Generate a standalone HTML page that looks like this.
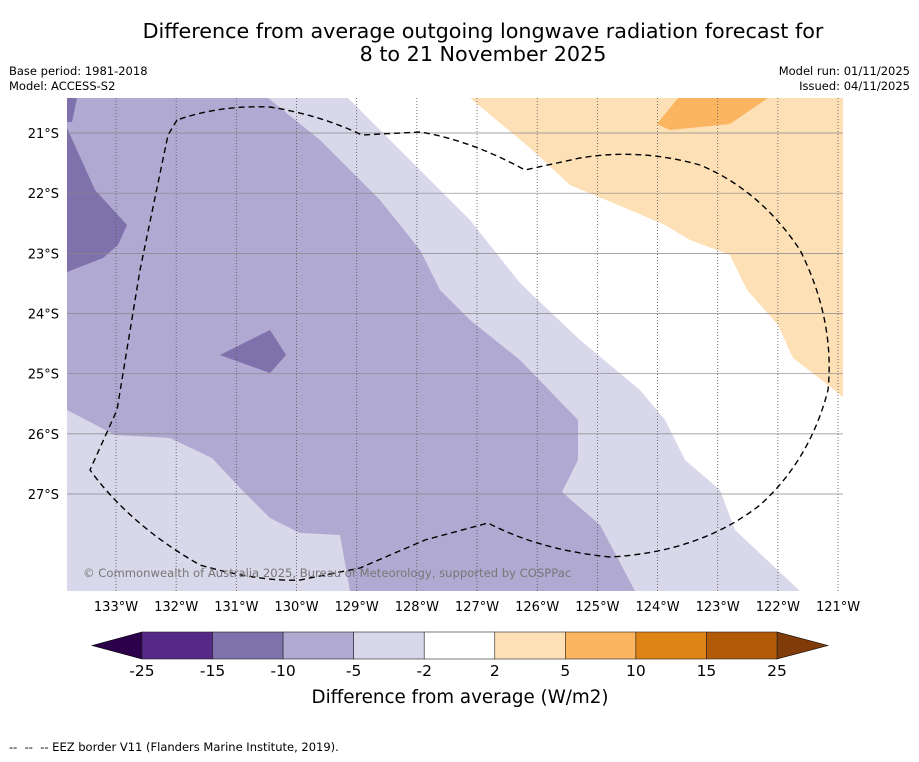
<!DOCTYPE html>
<html><head><meta charset="utf-8"><style>
body{margin:0;background:#fff;width:919px;height:758px;overflow:hidden;font-family:"DejaVu Sans","Liberation Sans",sans-serif}
text{white-space:pre}
</style></head><body>
<svg id="svg" width="919" height="758" xmlns="http://www.w3.org/2000/svg" font-family="DejaVu Sans, Liberation Sans, sans-serif">
<text x="483" y="38" font-size="20.7" text-anchor="middle">Difference from average outgoing longwave radiation forecast for</text>
<text x="483" y="61" font-size="20.7" text-anchor="middle">8 to 21 November 2025</text>
<text x="9" y="75" font-size="11.5">Base period: 1981-2018</text>
<text x="9" y="90" font-size="11.5">Model: ACCESS-S2</text>
<text x="910" y="75" font-size="11.5" text-anchor="end">Model run: 01/11/2025</text>
<text x="910" y="90" font-size="11.5" text-anchor="end">Issued: 04/11/2025</text>
<defs><clipPath id="mc"><rect x="67" y="98" width="776" height="493"/></clipPath></defs>
<g clip-path="url(#mc)">
<rect x="67" y="98" width="776" height="493" fill="#ffffff"/>
<polygon fill="#d8d8ea" points="67,98 348,98 420,170 470,220 520,283 580,340 640,390 665,420 685,460 720,490 735,530 800,591 67,591"/>
<polygon fill="#b0a9d1" points="67,98 268,98 320,140 380,200 420,250 440,290 470,320 520,360 578,420 578,460 562,492 600,525 635,591 350,591 340,535 300,533 270,518 240,488 212,458 170,438 115,435 67,410"/>
<polygon fill="#7f71ab" points="67,98 77,98 72,122 67,122"/>
<polygon fill="#7f71ab" points="67,128 95,190 127,225 118,245 103,258 67,272"/>
<polygon fill="#7f71ab" points="220,355 270,330 286,355 270,373"/>
<polygon fill="#fde0b6" points="470,98 843,98 843,397 828,385 793,358 778,325 747,290 730,255 690,240 665,225 630,210 570,185 530,148"/>
<polygon fill="#fbb45f" points="678,98 768,98 730,124 670,130 657,124"/>
<g id="grid"></g>
<path fill="none" stroke="#000" stroke-width="1.4" stroke-dasharray="6,4" d="M177,120 L168,135 L140,270 L117,410 L90,470 Q130,525 200,565 Q260,582 300,580 L360,568 L425,540 L488,523 Q540,550 610,557 Q700,552 760,505 Q810,460 828,390 Q835,320 800,250 Q760,190 700,165 Q640,148 580,158 L525,170 Q470,140 420,132 L362,135 Q320,115 270,107 Q220,105 177,120 Z"/>
<text x="83" y="577" font-size="11.6" fill="#777">© Commonwealth of Australia 2025, Bureau of Meteorology, supported by COSPPac</text>
</g>
<g id="xt"></g>
<g id="yt"></g>
<g id="cb"></g>
<text x="460" y="703" font-size="18.3" text-anchor="middle">Difference from average (W/m2)</text>
<text x="9" y="751" font-size="11.5">--  --  -- EEZ border V11 (Flanders Marine Institute, 2019).</text>
</svg>
<script>
const lonTicks=[133,132,131,130,129,128,127,126,125,124,123,122,121];
const latTicks=[21,22,23,24,25,26,27];
const cbLevels=[-25,-15,-10,-5,-2,2,5,10,15,25];
const cbColors=["#562887","#7f71ab","#b0a9d1","#d8d8ea","#ffffff","#fde0b6","#fbb45f","#e08317","#b15a08"];
const NS="http://www.w3.org/2000/svg";
function xs(lon){return 116+(133-lon)*60.17;}
function ys(lat){return 133+(lat-21)*60.17;}
function mk(tag,attrs,parent){const e=document.createElementNS(NS,tag);for(const k in attrs)e.setAttribute(k,attrs[k]);parent.appendChild(e);return e;}
const grid=document.getElementById('grid'),xt=document.getElementById('xt'),yt=document.getElementById('yt'),cb=document.getElementById('cb');
lonTicks.forEach(l=>{const x=xs(l);
 const g=mk('line',{x1:x,x2:x,y1:98,y2:591,stroke:'#555','stroke-width':0.8,'stroke-dasharray':'1,2'},grid);
 
 
 const t=mk('text',{x:x,y:611,'font-size':13,'text-anchor':'middle'},xt);t.textContent=l+'°W';
 
 });
latTicks.forEach(l=>{const y=ys(l);
 const g=mk('line',{x1:67,x2:843,y1:y,y2:y,stroke:'#888','stroke-width':0.7},grid);
 
 
 const t=mk('text',{x:59,y:y+5,'font-size':13,'text-anchor':'end'},yt);t.textContent=l+'°S';
 
 });
const cx0=142,cw=(777-142)/cbColors.length,cy=632,ch=27;
const lt=mk('polygon',{points:`92,${cy+ch/2} ${cx0},${cy} ${cx0},${cy+ch}`,fill:'#2d004b',stroke:'#000','stroke-width':0.6},cb);


const rt=mk('polygon',{points:`828,${cy+ch/2} 777,${cy} 777,${cy+ch}`,fill:'#7f3b08',stroke:'#000','stroke-width':0.6},cb);


cbColors.forEach((c,i)=>{const r=mk('rect',{x:cx0+i*cw,y:cy,width:cw,height:ch,fill:c,stroke:'#222','stroke-width':0.6},cb);
 
 });
cbLevels.forEach((v,i)=>{const t=mk('text',{x:cx0+i*cw,y:676,'font-size':15.5,'text-anchor':'middle'},cb);t.textContent=v;
 
 });
</script>
</body></html>
